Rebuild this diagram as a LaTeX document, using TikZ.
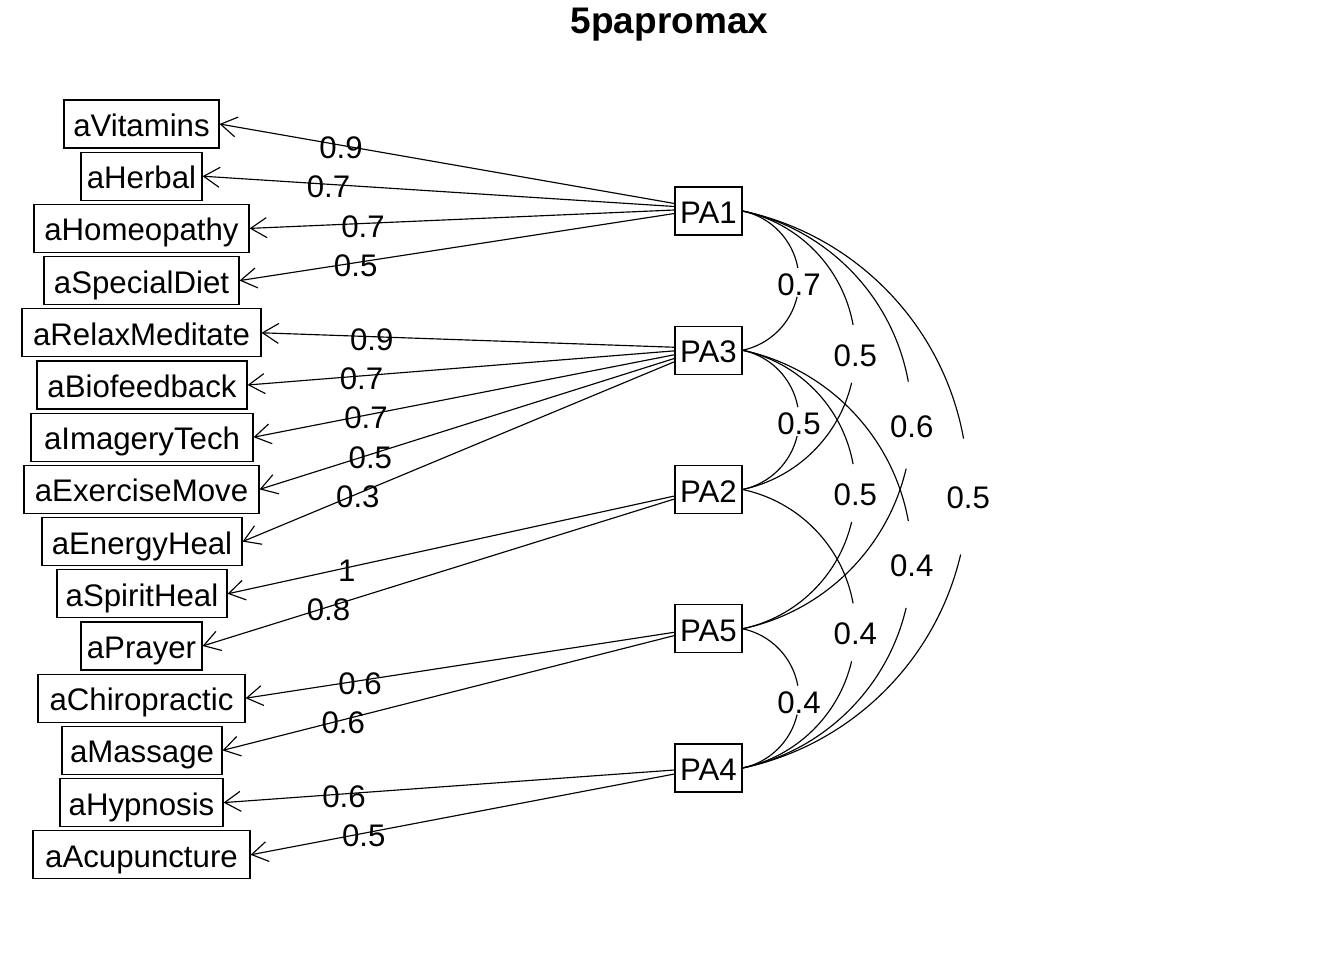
\documentclass[tikz,border=0pt]{standalone}
\usepackage{fontspec}
\setmainfont{Liberation Sans}
\usetikzlibrary{arrows.meta,calc}
\newcommand\corrarc[4]{%
  \draw[cur] (#1.east) arc[start angle=78.02, end angle=10.3, radius=#3*71.17pt];
  \draw[cur] (#2.east) arc[start angle=-78.02, end angle=-13.2, radius=#3*71.17pt];
  \node[lab] (c#1#2) at ($(#1.east)!0.5!(#2.east)+(#3*56.4,#3*1.5-0.5)$) {#4};
}
\begin{document}
\begin{tikzpicture}[x=1pt,y=-1pt,
  every node/.style={font=\fontsize{31.2}{37}\selectfont},
  item/.style={draw, line width=1.15pt, minimum height=48pt, text height=29pt, text depth=4pt, inner sep=0pt},
  fac/.style={draw, line width=1.15pt, minimum height=48pt, minimum width=67pt, text height=29pt, text depth=4pt, inner sep=0pt},
  lab/.style={inner sep=0pt, text height=22.3pt, text depth=0pt, yshift=-2.5pt},
  arr/.style={line width=1.15pt, -{Straight Barb[length=16pt,width=20pt]}},
  cur/.style={line width=1.15pt}]
\useasboundingbox (0,0) rectangle (1344,960);

\node[font=\bfseries\fontsize{37}{44}\selectfont, anchor=base] (title) at (669.5,33.3) {5papromax};

% items
\node[item, minimum width=155pt] (aVitamins) at (141.5,124) {aVitamins};
\node[item, minimum width=121pt] (aHerbal) at (141.5,176.2) {aHerbal};
\node[item, minimum width=215pt] (aHomeopathy) at (141.5,228.4) {aHomeopathy};
\node[item, minimum width=195pt] (aSpecialDiet) at (141.5,280.6) {aSpecialDiet};
\node[item, minimum width=239pt] (aRelaxMeditate) at (141.5,332.8) {aRelaxMeditate};
\node[item, minimum width=210pt] (aBiofeedback) at (142,385) {aBiofeedback};
\node[item, minimum width=222pt] (aImageryTech) at (142,437.2) {aImageryTech};
\node[item, minimum width=235pt] (aExerciseMove) at (141.5,489.4) {aExerciseMove};
\node[item, minimum width=200pt] (aEnergyHeal) at (142,541.6) {aEnergyHeal};
\node[item, minimum width=170pt] (aSpiritHeal) at (142,593.8) {aSpiritHeal};
\node[item, minimum width=121pt] (aPrayer) at (141.5,646) {aPrayer};
\node[item, minimum width=207pt] (aChiropractic) at (141.5,698.2) {aChiropractic};
\node[item, minimum width=160pt] (aMassage) at (142,750.4) {aMassage};
\node[item, minimum width=163pt] (aHypnosis) at (141.5,802.6) {aHypnosis};
\node[item, minimum width=217pt] (aAcupuncture) at (141.5,854.8) {aAcupuncture};

% factors
\node[fac] (PA1) at (708.5,211) {PA1};
\node[fac] (PA3) at (708.5,350.25) {PA3};
\node[fac] (PA2) at (708.5,489.5) {PA2};
\node[fac] (PA5) at (708.5,628.75) {PA5};
\node[fac] (PA4) at (708.5,768) {PA4};

% loadings
\draw[arr] ($(PA1.west)+(0,-7.5)$) -- node[lab,pos=0.733] {0.9} (aVitamins.east);
\draw[arr] ($(PA1.west)+(0,-4.5)$) -- node[lab,pos=0.733] {0.7} (aHerbal.east);
\draw[arr] ($(PA1.west)+(0,-1)$) -- node[lab,pos=0.733] {0.7} (aHomeopathy.east);
\draw[arr] ($(PA1.west)+(0,2.5)$) -- node[lab,pos=0.733] {0.5} (aSpecialDiet.east);

\draw[arr] ($(PA3.west)+(0,-3)$) -- node[lab,pos=0.733] {0.9} (aRelaxMeditate.east);
\draw[arr] ($(PA3.west)+(0,0.6)$) -- node[lab,pos=0.733] {0.7} (aBiofeedback.east);
\draw[arr] ($(PA3.west)+(0,4.5)$) -- node[lab,pos=0.733] {0.7} (aImageryTech.east);
\draw[arr] ($(PA3.west)+(0,8.2)$) -- node[lab,pos=0.733] {0.5} (aExerciseMove.east);
\draw[arr] ($(PA3.west)+(0,11.5)$) -- node[lab,pos=0.733] {0.3} (aEnergyHeal.east);

\draw[arr] ($(PA2.west)+(0,6.5)$) -- node[lab,pos=0.733] {1} (aSpiritHeal.east);
\draw[arr] ($(PA2.west)+(0,9.5)$) -- node[lab,pos=0.733] {0.8} (aPrayer.east);

\draw[arr] ($(PA5.west)+(0,3.5)$) -- node[lab,pos=0.733] {0.6} (aChiropractic.east);
\draw[arr] ($(PA5.west)+(0,6.8)$) -- node[lab,pos=0.733] {0.6} (aMassage.east);

\draw[arr] ($(PA4.west)+(0,2)$) -- node[lab,pos=0.733] {0.6} (aHypnosis.east);
\draw[arr] ($(PA4.west)+(0,6)$) -- node[lab,pos=0.733] {0.5} (aAcupuncture.east);

% factor correlations
\corrarc{PA1}{PA3}{1}{0.7}
\corrarc{PA1}{PA2}{2}{0.5}
\corrarc{PA1}{PA5}{3}{0.6}
\corrarc{PA1}{PA4}{4}{0.5}
\corrarc{PA3}{PA2}{1}{0.5}
\corrarc{PA3}{PA5}{2}{0.5}
\corrarc{PA3}{PA4}{3}{0.4}
\corrarc{PA2}{PA4}{2}{0.4}
\corrarc{PA5}{PA4}{1}{0.4}
\end{tikzpicture}
\end{document}
